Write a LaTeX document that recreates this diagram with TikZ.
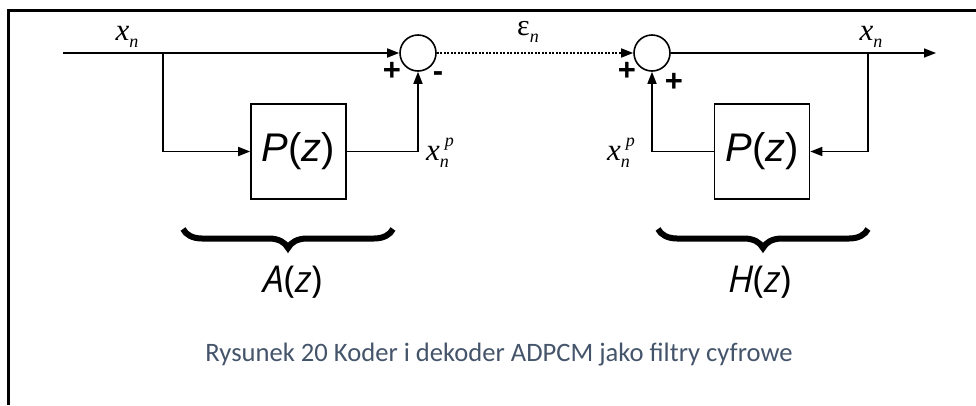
\documentclass[tikz,border=0pt]{standalone}
\usepackage{fontspec}
\setmainfont{Liberation Serif}
\newfontfamily\capfont{Carlito}
\newfontfamily\arialf{Liberation Sans}
\newfontfamily\humanf{Open Sans}
\usetikzlibrary{arrows.meta,decorations.pathreplacing}
\definecolor{capcol}{HTML}{44546A}
\newcommand\xlab{{\fontsize{31}{31}\selectfont\itshape x}}
\newcommand\nsub{\raisebox{-7pt}{\fontsize{18}{18}\selectfont\itshape n}}
\newcommand\psup{\hspace{5pt}\raisebox{14pt}{\fontsize{18}{18}\selectfont\itshape p}}
\begin{document}
\begin{tikzpicture}[x=1pt,y=-1pt,
  line width=1.6pt,
  arr/.style={-{Triangle[length=12pt,width=9pt]}},
  sumnode/.style={circle,draw,minimum size=36pt,inner sep=0pt},
  blockbox/.style={draw,minimum width=95pt,minimum height=95pt,inner sep=0pt,font=\arialf\fontsize{40}{40}\selectfont},
  lbl/.style={inner sep=0pt},
  sign/.style={inner sep=0pt,font=\arialf\bfseries\fontsize{31}{31}\selectfont},
  fn/.style={inner sep=0pt,font=\humanf\fontsize{37}{37}\selectfont},
  brc/.style={decorate,decoration={brace,mirror,amplitude=19pt},line width=6pt}]
\useasboundingbox (0,0) rectangle (976,405);
\draw[line width=3pt] (976,10) -- (8,10) -- (8,405);
% nodes
\coordinate (in) at (63,53);
\coordinate (b1) at (163,53);
\coordinate (b2) at (868,53);
\coordinate (out) at (936,53);
\node[sumnode] (s1) at (418,53) {};
\node[sumnode] (s2) at (652,53) {};
\node[blockbox] (p1) at (298.5,151.5) {\textit{P}(\textit{z})};
\node[blockbox] (p2) at (762,151.5) {\textit{P}(\textit{z})};
% connectors
\draw[arr] (in) -- (s1.west);
\draw[arr] (b1) |- (p1.west);
\draw[arr] (p1.east) -| (s1.south);
\draw[arr,dash pattern=on 2pt off 1.5pt] (s1.east) -- (s2.west);
\draw[arr] (s2.east) -- (out);
\draw[arr] (b2) |- (p2.east);
\draw[arr] (p2.west) -| (s2.south);
% labels
\node[lbl] (l1) at (127,37) {\xlab\nsub};
\node[lbl] (l2) at (871,37) {\xlab\nsub};
\node[lbl] (l3) at (528,32) {{\fontsize{30}{30}\selectfont ε}\nsub};
\node[lbl] (l4) at (440,153) {\xlab\rlap{\nsub}\psup};
\node[lbl] (l5) at (621,153) {\xlab\rlap{\nsub}\psup};
\node[sign] (pl1) at (392,71) {+};
\node[sign] (mi1) at (438,77) {-};
\node[sign] (pl2) at (627,71) {+};
\node[sign] (pl3) at (674,82) {+};
% braces
\draw[brc] (183,229) -- (393,229);
\draw[brc] (658,229) -- (868,229);
\node[fn] (az) at (293,282) {\textit{A}(\textit{z})};
\node[fn] (hz) at (760,282) {\textit{H}(\textit{z})};
\node[lbl,text=capcol,font=\capfont\fontsize{26.6}{26.6}\selectfont] (cap) at (499,355) {Rysunek 20 Koder i dekoder ADPCM jako filtry cyfrowe};
\end{tikzpicture}
\end{document}
